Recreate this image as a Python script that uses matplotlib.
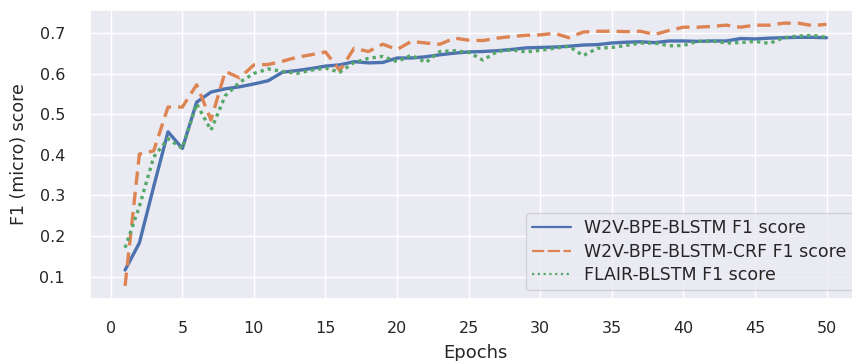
import matplotlib
matplotlib.use("Agg")
import matplotlib.pyplot as plt
from matplotlib.lines import Line2D
import seaborn as sns

epochs = list(range(1, 51))

w2v_blstm = [0.116, 0.183, 0.322, 0.457, 0.416, 0.530, 0.555, 0.563, 0.568, 0.575,
             0.583, 0.604, 0.608, 0.613, 0.619, 0.622, 0.630, 0.627, 0.628, 0.639,
             0.639, 0.642, 0.647, 0.651, 0.654, 0.655, 0.657, 0.660, 0.664, 0.665,
             0.666, 0.668, 0.671, 0.672, 0.676, 0.678, 0.679, 0.677, 0.681, 0.681,
             0.680, 0.681, 0.681, 0.687, 0.686, 0.688, 0.689, 0.690, 0.690, 0.689]

w2v_blstm_crf = [0.077, 0.402, 0.410, 0.518, 0.518, 0.573, 0.486, 0.606, 0.590, 0.622,
                 0.623, 0.631, 0.641, 0.647, 0.654, 0.608, 0.663, 0.655, 0.673, 0.660,
                 0.680, 0.676, 0.673, 0.688, 0.683, 0.682, 0.688, 0.692, 0.695, 0.696,
                 0.700, 0.689, 0.703, 0.705, 0.705, 0.704, 0.705, 0.697, 0.707, 0.715,
                 0.715, 0.717, 0.720, 0.715, 0.720, 0.720, 0.725, 0.725, 0.719, 0.722]

flair_blstm = [0.171, 0.273, 0.395, 0.440, 0.416, 0.526, 0.461, 0.546, 0.579, 0.601,
               0.612, 0.606, 0.601, 0.609, 0.614, 0.604, 0.628, 0.638, 0.643, 0.630,
               0.646, 0.628, 0.655, 0.657, 0.653, 0.634, 0.655, 0.659, 0.654, 0.658,
               0.663, 0.668, 0.645, 0.663, 0.665, 0.670, 0.676, 0.676, 0.669, 0.670,
               0.680, 0.681, 0.676, 0.677, 0.680, 0.675, 0.689, 0.693, 0.695, 0.690]

labels = ["W2V-BPE-BLSTM F1 score", "W2V-BPE-BLSTM-CRF F1 score", "FLAIR-BLSTM F1 score"]
xticks = [0, 5, 10, 15, 20, 25, 30, 35, 40, 45, 50]
yticks = [0.1, 0.2, 0.3, 0.4, 0.5, 0.6, 0.7]

sns.set_theme(style="darkgrid")
plt.rcParams['font.family'] = ['DejaVu Sans']

fig = plt.figure(figsize=(8.53, 3.61), dpi=100)
ax = fig.add_axes([90/853, 62/361, (861.6-90)/853, (299-10)/361])

pal = sns.color_palette("deep")
ax.plot(epochs, w2v_blstm, color=pal[0], lw=2.4, ls='-')
ax.plot(epochs, w2v_blstm_crf, color=pal[1], lw=2.4, ls=(0, (4.0, 2.1)))
ax.plot(epochs, flair_blstm, color=pal[2], lw=2.4, ls=(0, (1.0, 1.2)))

ax.set_xticks(xticks)
ax.set_yticks(yticks)
ax.tick_params(axis='both', length=0, colors='0.15')
ax.tick_params(axis='x', labelsize=11.5, pad=16)
ax.tick_params(axis='y', labelsize=11.5, pad=18)
ax.set_xlabel("Epochs", fontsize=13, labelpad=5.5, color='0.15')
ax.set_ylabel("F1 (micro) score", fontsize=12.5, labelpad=8, color='0.15')

handles = [
    Line2D([], [], color=pal[0], lw=1.6, ls='-'),
    Line2D([], [], color=pal[1], lw=1.6, ls=(0, (5.5, 1.6))),
    Line2D([], [], color=pal[2], lw=1.6, ls=(0, (1.0, 1.6))),
]
ax.legend(handles, labels, loc='lower right', fontsize=12.5, labelspacing=0.32,
          handlelength=2.25, handletextpad=0.77, borderpad=0.35)

fig.savefig("out.png", dpi=100)
